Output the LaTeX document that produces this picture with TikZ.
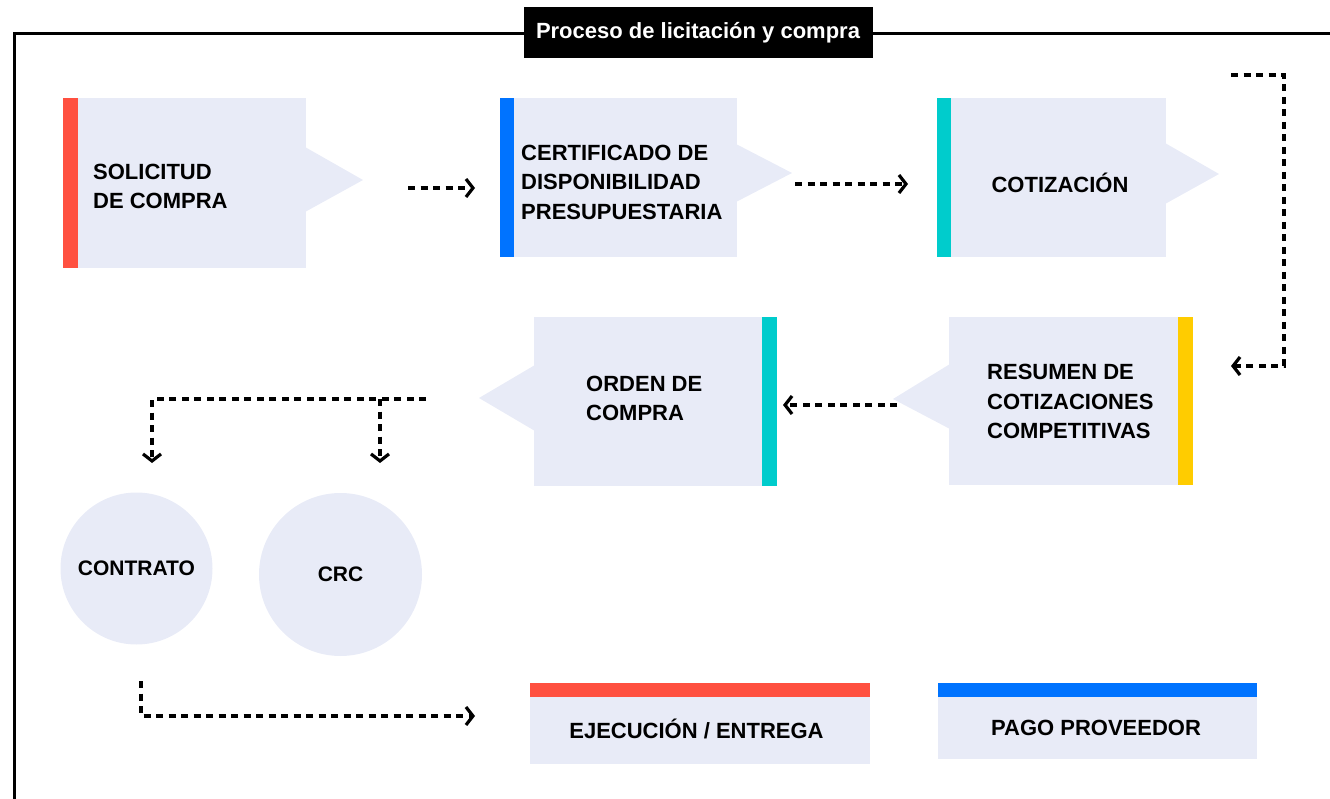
\documentclass[tikz,border=0pt]{standalone}
\usepackage{fontspec}
\setmainfont{Liberation Sans}
\usetikzlibrary{arrows.meta}
\definecolor{panelblue}{HTML}{E8EBF7}
\definecolor{barred}{HTML}{FF5040}
\definecolor{barblue}{HTML}{0073FF}
\definecolor{barteal}{HTML}{00CCCC}
\definecolor{baryellow}{HTML}{FFCC00}
\begin{document}
\begin{tikzpicture}[x=1pt,y=-1pt,
    panel/.style={fill=panelblue,inner sep=0pt,anchor=north west},
    caption/.style={font=\fontsize{22}{29.5}\selectfont\bfseries,align=left,inner sep=0pt},
    flow/.style={line width=3.2pt,dash pattern=on 7pt off 5.5pt,
        -{Straight Barb[length=7pt,width=18pt]}}]
    \useasboundingbox (0,0) rectangle (1330,799);
    % marco y titulo
    \draw[line width=3pt] (14.5,799) -- (14.5,34) -- (1330,34);
    \node[fill=black,text=white,inner sep=0pt,minimum width=349pt,minimum height=51pt,
        font=\fontsize{22}{26}\selectfont\bfseries] (titulo) at (698,32.5) {Proceso de licitación y compra};
    % fila superior
    \node[panel,minimum width=228pt,minimum height=170pt] (sol) at (78,98) {};
    \fill[panelblue] (305,147) -- (363,180) -- (305,212) -- cycle;
    \fill[barred] (63,98) rectangle (78,268);
    \node[caption,anchor=west] (soltxt) at (93,186.5) {SOLICITUD\\DE COMPRA};
    \node[panel,minimum width=223pt,minimum height=159pt] (cdp) at (514,98) {};
    \fill[panelblue] (736,144) -- (792,173) -- (736,202) -- cycle;
    \fill[barblue] (500,98) rectangle (514,257);
    \node[caption,anchor=west] (cdptxt) at (521,182) {CERTIFICADO DE\\DISPONIBILIDAD\\PRESUPUESTARIA};
    \node[panel,minimum width=215pt,minimum height=159pt] (cot) at (951,98) {};
    \fill[panelblue] (1165,143) -- (1219,174) -- (1165,204) -- cycle;
    \fill[barteal] (937,98) rectangle (951,257);
    \node[caption,anchor=base] (cottxt) at (1060,192.5) {COTIZACIÓN};
    % fila media
    \node[panel,minimum width=229pt,minimum height=168pt] (res) at (949,317) {};
    \fill[panelblue] (950,364) -- (893,399) -- (950,429) -- cycle;
    \fill[baryellow] (1178,317) rectangle (1193,485);
    \node[caption,anchor=west] (restxt) at (987,401.5) {RESUMEN DE\\COTIZACIONES\\COMPETITIVAS};
    \node[panel,minimum width=228pt,minimum height=169pt] (ord) at (534,317) {};
    \fill[panelblue] (535,365) -- (479,398) -- (535,431) -- cycle;
    \fill[barteal] (762,317) rectangle (777,486);
    \node[caption,anchor=west] (ordtxt) at (586,398.5) {ORDEN DE\\COMPRA};
    % documentos
    \node[circle,fill=panelblue,minimum size=152pt,inner sep=0pt,font=\fontsize{21}{25}\selectfont\bfseries]
        (contrato) at (136.5,568.5) {CONTRATO};
    \node[circle,fill=panelblue,minimum size=163pt,inner sep=0pt,font=\fontsize{21}{25}\selectfont\bfseries]
        (crc) at (340.5,574.5) {CRC};
    % fila inferior
    \node[panel,minimum width=340pt,minimum height=67pt] (ejec) at (530,697) {};
    \fill[barred] (530,683) rectangle (870,697);
    \node[caption,anchor=base] (ejectxt) at (696.5,738.5) {EJECUCIÓN / ENTREGA};
    \node[panel,minimum width=319pt,minimum height=62pt] (pago) at (938,697) {};
    \fill[barblue] (938,683) rectangle (1257,697);
    \node[caption,anchor=base] (pagotxt) at (1096,735.5) {PAGO PROVEEDOR};
    % conectores
    \coordinate (a1) at (408,188);   \coordinate (b1) at (475,188);
    \coordinate (a2) at (795,184);   \coordinate (b2) at (908,184);
    \coordinate (a3) at (1231,75);   \coordinate (b3) at (1231,366);
    \coordinate (a4) at (897,405);   \coordinate (b4) at (783,405);
    \coordinate (a5) at (426,399);   \coordinate (b5) at (152,463);
    \coordinate (k5) at (380,399);   \coordinate (c5) at (380,463);
    \coordinate (a6) at (141,681);   \coordinate (b6) at (475,716);
    \draw[flow] (a1) -- (b1);
    \draw[flow] (a2) -- (b2);
    \draw[flow] (a3) -- (1284,75) |- (b3);
    \draw[flow] (a4) -- (b4);
    \draw[flow] (a5) -| (b5);
    \draw[flow] (k5) -- (c5);
    \draw[flow] (a6) |- (b6);
\end{tikzpicture}
\end{document}
